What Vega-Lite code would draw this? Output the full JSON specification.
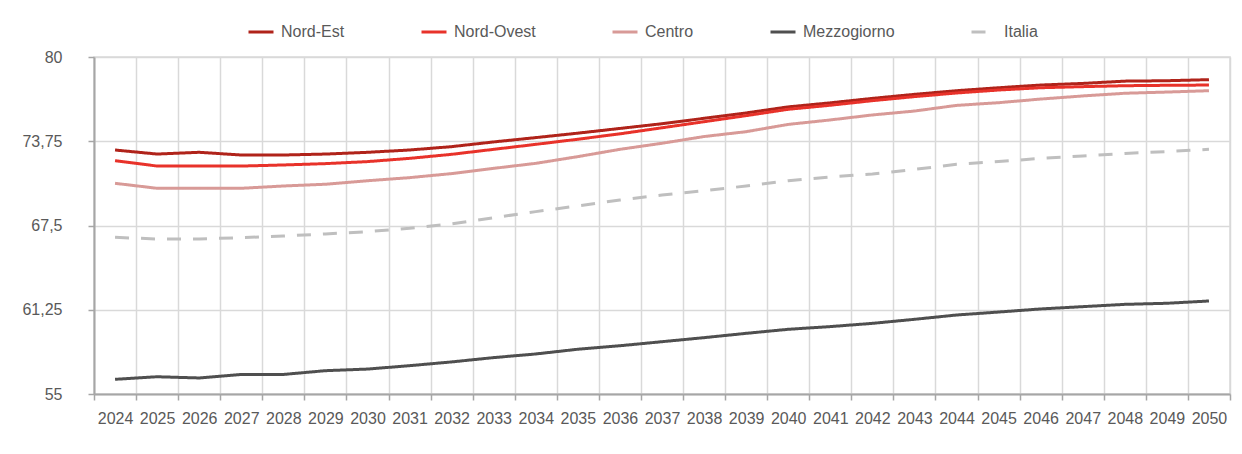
{
  "$schema": "https://vega.github.io/schema/vega-lite/v6.json",
  "width": 1136,
  "height": 337,
  "autosize": {"type": "none"},
  "padding": {"left": 94, "top": 57, "right": 12, "bottom": 60},
  "background": "white",
  "config": {
    "font": "Liberation Sans",
    "view": {"stroke": "#D9D9D9", "strokeWidth": 1.5}
  },
  "data": {
    "values": [
      {"year": "2024", "series": "Nord-Est", "value": 73.10},
      {"year": "2025", "series": "Nord-Est", "value": 72.80},
      {"year": "2026", "series": "Nord-Est", "value": 72.93},
      {"year": "2027", "series": "Nord-Est", "value": 72.73},
      {"year": "2028", "series": "Nord-Est", "value": 72.73},
      {"year": "2029", "series": "Nord-Est", "value": 72.80},
      {"year": "2030", "series": "Nord-Est", "value": 72.93},
      {"year": "2031", "series": "Nord-Est", "value": 73.10},
      {"year": "2032", "series": "Nord-Est", "value": 73.35},
      {"year": "2033", "series": "Nord-Est", "value": 73.70},
      {"year": "2034", "series": "Nord-Est", "value": 74.02},
      {"year": "2035", "series": "Nord-Est", "value": 74.35},
      {"year": "2036", "series": "Nord-Est", "value": 74.70},
      {"year": "2037", "series": "Nord-Est", "value": 75.05},
      {"year": "2038", "series": "Nord-Est", "value": 75.45},
      {"year": "2039", "series": "Nord-Est", "value": 75.85},
      {"year": "2040", "series": "Nord-Est", "value": 76.30},
      {"year": "2041", "series": "Nord-Est", "value": 76.60},
      {"year": "2042", "series": "Nord-Est", "value": 76.93},
      {"year": "2043", "series": "Nord-Est", "value": 77.23},
      {"year": "2044", "series": "Nord-Est", "value": 77.50},
      {"year": "2045", "series": "Nord-Est", "value": 77.72},
      {"year": "2046", "series": "Nord-Est", "value": 77.92},
      {"year": "2047", "series": "Nord-Est", "value": 78.04},
      {"year": "2048", "series": "Nord-Est", "value": 78.21},
      {"year": "2049", "series": "Nord-Est", "value": 78.24},
      {"year": "2050", "series": "Nord-Est", "value": 78.32},
      {"year": "2024", "series": "Nord-Ovest", "value": 72.31},
      {"year": "2025", "series": "Nord-Ovest", "value": 71.91},
      {"year": "2026", "series": "Nord-Ovest", "value": 71.91},
      {"year": "2027", "series": "Nord-Ovest", "value": 71.91},
      {"year": "2028", "series": "Nord-Ovest", "value": 71.99},
      {"year": "2029", "series": "Nord-Ovest", "value": 72.09},
      {"year": "2030", "series": "Nord-Ovest", "value": 72.24},
      {"year": "2031", "series": "Nord-Ovest", "value": 72.48},
      {"year": "2032", "series": "Nord-Ovest", "value": 72.78},
      {"year": "2033", "series": "Nord-Ovest", "value": 73.15},
      {"year": "2034", "series": "Nord-Ovest", "value": 73.52},
      {"year": "2035", "series": "Nord-Ovest", "value": 73.90},
      {"year": "2036", "series": "Nord-Ovest", "value": 74.30},
      {"year": "2037", "series": "Nord-Ovest", "value": 74.75},
      {"year": "2038", "series": "Nord-Ovest", "value": 75.20},
      {"year": "2039", "series": "Nord-Ovest", "value": 75.65},
      {"year": "2040", "series": "Nord-Ovest", "value": 76.12},
      {"year": "2041", "series": "Nord-Ovest", "value": 76.42},
      {"year": "2042", "series": "Nord-Ovest", "value": 76.76},
      {"year": "2043", "series": "Nord-Ovest", "value": 77.06},
      {"year": "2044", "series": "Nord-Ovest", "value": 77.33},
      {"year": "2045", "series": "Nord-Ovest", "value": 77.55},
      {"year": "2046", "series": "Nord-Ovest", "value": 77.72},
      {"year": "2047", "series": "Nord-Ovest", "value": 77.80},
      {"year": "2048", "series": "Nord-Ovest", "value": 77.87},
      {"year": "2049", "series": "Nord-Ovest", "value": 77.90},
      {"year": "2050", "series": "Nord-Ovest", "value": 77.92},
      {"year": "2024", "series": "Centro", "value": 70.63},
      {"year": "2025", "series": "Centro", "value": 70.26},
      {"year": "2026", "series": "Centro", "value": 70.26},
      {"year": "2027", "series": "Centro", "value": 70.26},
      {"year": "2028", "series": "Centro", "value": 70.43},
      {"year": "2029", "series": "Centro", "value": 70.56},
      {"year": "2030", "series": "Centro", "value": 70.82},
      {"year": "2031", "series": "Centro", "value": 71.05},
      {"year": "2032", "series": "Centro", "value": 71.35},
      {"year": "2033", "series": "Centro", "value": 71.74},
      {"year": "2034", "series": "Centro", "value": 72.11},
      {"year": "2035", "series": "Centro", "value": 72.61},
      {"year": "2036", "series": "Centro", "value": 73.15},
      {"year": "2037", "series": "Centro", "value": 73.60},
      {"year": "2038", "series": "Centro", "value": 74.10},
      {"year": "2039", "series": "Centro", "value": 74.46},
      {"year": "2040", "series": "Centro", "value": 75.00},
      {"year": "2041", "series": "Centro", "value": 75.33},
      {"year": "2042", "series": "Centro", "value": 75.70},
      {"year": "2043", "series": "Centro", "value": 75.99},
      {"year": "2044", "series": "Centro", "value": 76.41},
      {"year": "2045", "series": "Centro", "value": 76.61},
      {"year": "2046", "series": "Centro", "value": 76.88},
      {"year": "2047", "series": "Centro", "value": 77.11},
      {"year": "2048", "series": "Centro", "value": 77.31},
      {"year": "2049", "series": "Centro", "value": 77.40},
      {"year": "2050", "series": "Centro", "value": 77.50},
      {"year": "2024", "series": "Mezzogiorno", "value": 56.09},
      {"year": "2025", "series": "Mezzogiorno", "value": 56.28},
      {"year": "2026", "series": "Mezzogiorno", "value": 56.19},
      {"year": "2027", "series": "Mezzogiorno", "value": 56.45},
      {"year": "2028", "series": "Mezzogiorno", "value": 56.45},
      {"year": "2029", "series": "Mezzogiorno", "value": 56.73},
      {"year": "2030", "series": "Mezzogiorno", "value": 56.85},
      {"year": "2031", "series": "Mezzogiorno", "value": 57.10},
      {"year": "2032", "series": "Mezzogiorno", "value": 57.38},
      {"year": "2033", "series": "Mezzogiorno", "value": 57.70},
      {"year": "2034", "series": "Mezzogiorno", "value": 57.97},
      {"year": "2035", "series": "Mezzogiorno", "value": 58.32},
      {"year": "2036", "series": "Mezzogiorno", "value": 58.58},
      {"year": "2037", "series": "Mezzogiorno", "value": 58.88},
      {"year": "2038", "series": "Mezzogiorno", "value": 59.18},
      {"year": "2039", "series": "Mezzogiorno", "value": 59.50},
      {"year": "2040", "series": "Mezzogiorno", "value": 59.80},
      {"year": "2041", "series": "Mezzogiorno", "value": 60.00},
      {"year": "2042", "series": "Mezzogiorno", "value": 60.24},
      {"year": "2043", "series": "Mezzogiorno", "value": 60.54},
      {"year": "2044", "series": "Mezzogiorno", "value": 60.86},
      {"year": "2045", "series": "Mezzogiorno", "value": 61.08},
      {"year": "2046", "series": "Mezzogiorno", "value": 61.31},
      {"year": "2047", "series": "Mezzogiorno", "value": 61.48},
      {"year": "2048", "series": "Mezzogiorno", "value": 61.65},
      {"year": "2049", "series": "Mezzogiorno", "value": 61.73},
      {"year": "2050", "series": "Mezzogiorno", "value": 61.90},
      {"year": "2024", "series": "Italia", "value": 66.62},
      {"year": "2025", "series": "Italia", "value": 66.50},
      {"year": "2026", "series": "Italia", "value": 66.50},
      {"year": "2027", "series": "Italia", "value": 66.60},
      {"year": "2028", "series": "Italia", "value": 66.72},
      {"year": "2029", "series": "Italia", "value": 66.87},
      {"year": "2030", "series": "Italia", "value": 67.04},
      {"year": "2031", "series": "Italia", "value": 67.29},
      {"year": "2032", "series": "Italia", "value": 67.62},
      {"year": "2033", "series": "Italia", "value": 68.08},
      {"year": "2034", "series": "Italia", "value": 68.53},
      {"year": "2035", "series": "Italia", "value": 68.95},
      {"year": "2036", "series": "Italia", "value": 69.39},
      {"year": "2037", "series": "Italia", "value": 69.76},
      {"year": "2038", "series": "Italia", "value": 70.08},
      {"year": "2039", "series": "Italia", "value": 70.43},
      {"year": "2040", "series": "Italia", "value": 70.82},
      {"year": "2041", "series": "Italia", "value": 71.10},
      {"year": "2042", "series": "Italia", "value": 71.32},
      {"year": "2043", "series": "Italia", "value": 71.66},
      {"year": "2044", "series": "Italia", "value": 72.04},
      {"year": "2045", "series": "Italia", "value": 72.24},
      {"year": "2046", "series": "Italia", "value": 72.48},
      {"year": "2047", "series": "Italia", "value": 72.66},
      {"year": "2048", "series": "Italia", "value": 72.85},
      {"year": "2049", "series": "Italia", "value": 72.98},
      {"year": "2050", "series": "Italia", "value": 73.15}
    ]
  },
  "mark": {"type": "line", "strokeWidth": 3, "strokeJoin": "round"},
  "encoding": {
    "x": {
      "field": "year",
      "type": "ordinal",
      "bandPosition": 0.5,
      "scale": {"type": "band", "paddingInner": 0, "paddingOuter": 0},
      "axis": {
        "title": null,
        "labelAngle": 0,
        "tickBand": "extent",
        "grid": true,
        "gridColor": "#D9D9D9",
        "gridWidth": 1.5,
        "domainColor": "#A6A6A6",
        "domainWidth": 2,
        "tickColor": "#A6A6A6",
        "tickWidth": 1.5,
        "tickSize": 6,
        "labelFontSize": 16,
        "labelColor": "#595959",
        "labelPadding": 10,
        "labelOverlap": false
      }
    },
    "y": {
      "field": "value",
      "type": "quantitative",
      "scale": {"domain": [55, 80], "nice": false, "zero": false},
      "axis": {
        "title": null,
        "values": [55, 61.25, 67.5, 73.75, 80],
        "labelExpr": "replace(format(datum.value, '~g'), '.', ',')",
        "grid": true,
        "gridColor": "#D9D9D9",
        "gridWidth": 1.5,
        "domainColor": "#A6A6A6",
        "domainWidth": 2,
        "tickColor": "#A6A6A6",
        "tickWidth": 1.5,
        "tickSize": 6,
        "labelFontSize": 16,
        "labelColor": "#595959",
        "labelPadding": 26
      }
    },
    "color": {
      "field": "series",
      "type": "nominal",
      "sort": ["Nord-Est", "Nord-Ovest", "Centro", "Mezzogiorno", "Italia"],
      "scale": {
        "domain": ["Nord-Est", "Nord-Ovest", "Centro", "Mezzogiorno", "Italia"],
        "range": ["#B0231A", "#E8322A", "#D89A97", "#4F4F4F", "#BFBFBF"]
      },
      "legend": {
        "title": null,
        "orient": "none",
        "legendX": 153,
        "legendY": -39,
        "direction": "horizontal",
        "columns": 5,
        "columnPadding": 70,
        "symbolType": "stroke",
        "symbolSize": 625,
        "symbolStrokeWidth": 3,
        "labelFontSize": 16,
        "labelColor": "#595959",
        "labelOffset": 6
      }
    },
    "strokeDash": {
      "field": "series",
      "type": "nominal",
      "sort": ["Nord-Est", "Nord-Ovest", "Centro", "Mezzogiorno", "Italia"],
      "scale": {
        "domain": ["Nord-Est", "Nord-Ovest", "Centro", "Mezzogiorno", "Italia"],
        "range": [[1, 0], [1, 0], [1, 0], [1, 0], [14, 12]]
      },
      "legend": {
        "title": null,
        "orient": "none",
        "legendX": 153,
        "legendY": -39,
        "direction": "horizontal",
        "columns": 5,
        "columnPadding": 70,
        "symbolType": "stroke",
        "symbolSize": 625,
        "symbolStrokeWidth": 3,
        "labelFontSize": 16,
        "labelColor": "#595959",
        "labelOffset": 6
      }
    }
  }
}
